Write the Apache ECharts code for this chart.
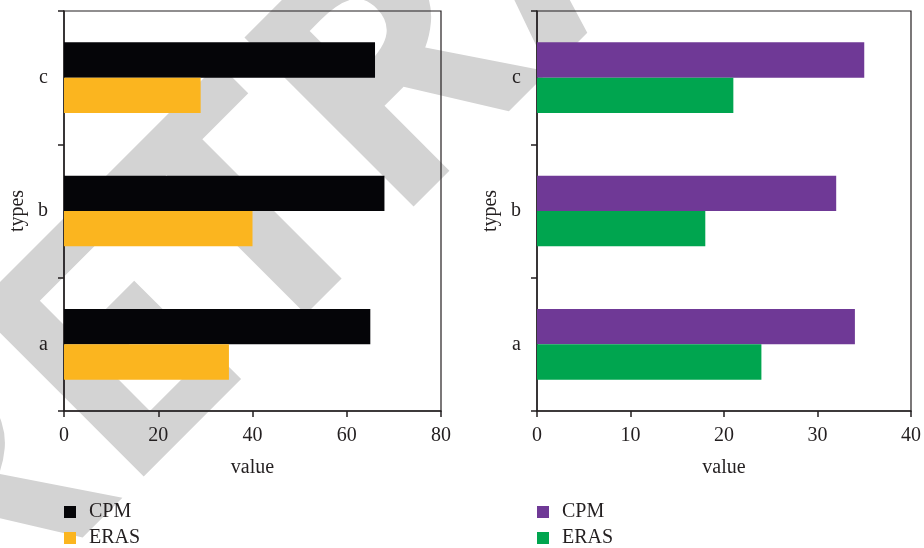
<!DOCTYPE html>
<html>
<head>
<meta charset="utf-8">
<script src="https://cdn.jsdelivr.net/npm/echarts@6/dist/echarts.min.js"></script>
<style>
  html, body { margin: 0; padding: 0; background: #ffffff; }
  #chart { width: 924px; height: 548px; }
</style>
</head>
<body>
<div id="chart"></div>
<script>
// Categories shared by both panels (bottom to top)
const categories = ['a', 'b', 'c'];

// Left panel
const leftCPM  = [65, 68, 66];
const leftERAS = [35, 40, 29];
const leftTicks = { min: 0, max: 80, interval: 20 };

// Right panel
const rightCPM  = [34, 32, 35];
const rightERAS = [24, 18, 21];
const rightTicks = { min: 0, max: 40, interval: 10 };

const seriesNames = ['CPM', 'ERAS'];
const leftColors  = ['#050508', '#fbb51f'];
const rightColors = ['#6f3996', '#00a54f'];

const FONT = '"Liberation Serif", "Times New Roman", serif';
const INK = '#231f20';

const chart = echarts.init(document.getElementById('chart'), null, { renderer: 'canvas' });

function xAxisFor(gridIndex, ticks) {
  return {
    type: 'value', gridIndex: gridIndex,
    min: ticks.min, max: ticks.max, interval: ticks.interval,
    name: 'value', nameLocation: 'middle', nameGap: 47,
    nameTextStyle: { fontFamily: FONT, fontSize: 20, color: INK },
    axisLine: { show: true, lineStyle: { color: INK, width: 1.5 } },
    axisTick: { show: true, length: 6, lineStyle: { color: INK, width: 1.5 } },
    axisLabel: { margin: 15, fontFamily: FONT, fontSize: 20, color: INK },
    splitLine: { show: false }
  };
}

function yAxisFor(gridIndex) {
  return {
    type: 'category', gridIndex: gridIndex, data: categories,
    name: 'types', nameLocation: 'middle', nameGap: 36,
    nameTextStyle: { fontFamily: FONT, fontSize: 20, color: INK },
    axisLine: { show: true, lineStyle: { color: INK, width: 1.5 } },
    axisTick: { show: true, length: 6, lineStyle: { color: INK, width: 1.5 } },
    axisLabel: { margin: 16, fontFamily: FONT, fontSize: 20, color: INK },
    splitLine: { show: false }
  };
}

function barSeries(name, data, color, axisIndex) {
  return {
    type: 'bar', name: name, data: data,
    xAxisIndex: axisIndex, yAxisIndex: axisIndex,
    barGap: '0%', barCategoryGap: '47%',
    itemStyle: { color: color },
    z: 2
  };
}

// One legend entry per row, stacked under each panel
function legendItem(left, top, name) {
  return {
    left: left, top: top,
    padding: 0,
    data: [name],
    formatter: function (n) { return n.trim(); },
    icon: 'rect', itemWidth: 12, itemHeight: 12,
    textStyle: { fontFamily: FONT, fontSize: 20, color: INK, padding: [0, 0, 0, 8] }
  };
}

const option = {
  backgroundColor: '#ffffff',
  animation: false,
  graphic: [{
    type: 'text',
    x: 17, y: 705,
    rotation: Math.PI / 4,
    z: -100,
    silent: true,
    style: {
      text: 'RETRACTED',
      fontFamily: '"Open Sans", "DejaVu Sans", sans-serif',
      fontWeight: 'bold',
      fontSize: 335,
      fill: '#d3d3d3',
      align: 'left',
      verticalAlign: 'bottom'
    }
  }],
  grid: [
    { left: 64, top: 11, width: 377, height: 400, show: true, borderColor: INK, borderWidth: 1.2, backgroundColor: 'transparent' },
    { left: 537, top: 11, width: 378, height: 400, show: true, borderColor: INK, borderWidth: 1.2, backgroundColor: 'transparent' }
  ],
  xAxis: [xAxisFor(0, leftTicks), xAxisFor(1, rightTicks)],
  yAxis: [yAxisFor(0), yAxisFor(1)],
  legend: [
    legendItem(64, 502, seriesNames[0]),
    legendItem(64, 528, seriesNames[1]),
    legendItem(537, 502, seriesNames[0] + ' '),
    legendItem(537, 528, seriesNames[1] + ' ')
  ],
  series: [
    barSeries(seriesNames[0], leftCPM, leftColors[0], 0),
    barSeries(seriesNames[1], leftERAS, leftColors[1], 0),
    // right-panel names carry a trailing space so each legend keeps its own colours
    barSeries(seriesNames[0] + ' ', rightCPM, rightColors[0], 1),
    barSeries(seriesNames[1] + ' ', rightERAS, rightColors[1], 1)
  ]
};

chart.setOption(option);
</script>
</body>
</html>
